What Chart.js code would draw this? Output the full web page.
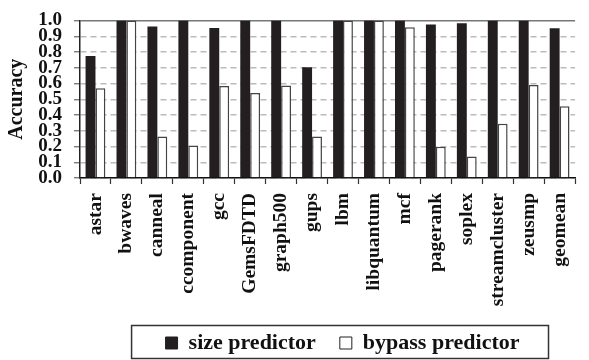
<!DOCTYPE html>
<html lang="en">
<head>
  <meta charset="UTF-8">
  <title>Accuracy: size vs bypass predictor</title>
  <script src="https://cdn.jsdelivr.net/npm/chart.js"></script>
  <style>
    html, body {
      margin: 0;
      padding: 0;
      background: #fff;
      overflow: hidden;
    }
    .chart-box {
      position: relative;
      width: 592px;
      height: 364px;
    }
  </style>
</head>
<body>

<div class="chart-box">
  <canvas id="accChart"></canvas>
</div>

<script>
const benchmarks = ["astar", "bwaves", "canneal", "ccomponent", "gcc", "GemsFDTD", "graph500", "gups",
  "lbm", "libquantum", "mcf", "pagerank", "soplex", "streamcluster", "zeusmp", "geomean"];
const sizePredictor   = [0.775, 1.0, 0.963, 1.0, 0.953, 1.0, 1.0, 0.703, 1.0, 1.0, 1.0, 0.975, 0.983, 1.0, 1.0, 0.951];
const bypassPredictor = [0.57, 1.0, 0.264, 0.207, 0.585, 0.54, 0.587, 0.264, 1.0, 1.0, 0.957, 0.198, 0.137, 0.345, 0.591, 0.456];
const yTicks = [0.0, 0.1, 0.2, 0.3, 0.4, 0.5, 0.6, 0.7, 0.8, 0.9, 1.0];

const serif = "'Liberation Serif', 'Times New Roman', serif";
const ink = "#231f20";

// nudge the legend a bit right, then frame it like the original figure
const legendFrame = {
  id: "legendFrame",
  afterLayout(chart) {
    if (!chart.legend) return;
    chart.legend.left += 15;
    chart.legend.right += 15;
  },
  afterDraw(chart) {
    const boxes = chart.legend && chart.legend.legendHitBoxes;
    if (!boxes || !boxes.length) return;
    const first = boxes[0], last = boxes[boxes.length - 1];
    const cy = first.top + first.height / 2;
    const x0 = first.left - 34;
    const x1 = last.left + last.width + 29;
    const ctx = chart.ctx;
    ctx.save();
    ctx.strokeStyle = "#333";
    ctx.lineWidth = 1.5;
    ctx.strokeRect(x0, cy - 17.5, x1 - x0, 33);
    ctx.restore();
  }
};

new Chart(document.getElementById("accChart"), {
  type: "bar",
  data: {
    labels: benchmarks,
    datasets: [
      {
        label: "size predictor",
        data: sizePredictor,
        backgroundColor: ink,
        borderColor: ink,
        borderWidth: 0,
        categoryPercentage: 0.64,
        barPercentage: 1.0
      },
      {
        label: "bypass predictor",
        data: bypassPredictor,
        backgroundColor: "#ffffff",
        borderColor: "#444",
        borderWidth: 1.5,
        categoryPercentage: 0.64,
        barPercentage: 1.0
      }
    ]
  },
  options: {
    responsive: true,
    maintainAspectRatio: false,
    animation: false,
    layout: { padding: { top: 15, right: 0, bottom: 0, left: 0 } },
    plugins: {
      tooltip: { enabled: false },
      legend: {
        position: "bottom",
        fullSize: false,
        labels: {
          font: { family: serif, size: 22, weight: "bold" },
          color: "#111",
          boxWidth: 12,
          boxHeight: 12,
          padding: 24,
          generateLabels(chart) {
            return chart.data.datasets.map((d, i) => ({
              text: d.label,
              fillStyle: d.backgroundColor,
              strokeStyle: ink,
              lineWidth: 1,
              fontColor: "#111",
              datasetIndex: i
            }));
          }
        }
      }
    },
    scales: {
      x: {
        offset: true,
        grid: {
          offset: true,
          drawOnChartArea: false,
          drawTicks: true,
          tickLength: 6,
          tickColor: "#333",
          tickWidth: 1.2
        },
        border: { color: "#111", width: 1.5 },
        ticks: {
          autoSkip: false,
          minRotation: 90,
          maxRotation: 90,
          padding: 9,
          color: "#111",
          font: { family: serif, size: 19.5, weight: "bold" }
        },
        afterFit(scale) { scale.height = 130; }
      },
      y: {
        min: 0,
        max: 1,
        afterBuildTicks(scale) { scale.ticks = yTicks.map(v => ({ value: v })); },
        afterFit(scale) { scale.width = 80; },
        grid: {
          color: ctx => ctx.tick && ctx.tick.value >= 1 ? "#777" : "#bbb",
          lineWidth: 1.5,
          tickLength: 6,
          tickColor: "#666",
          tickWidth: 1.2
        },
        border: {
          color: "#222",
          width: 1.5,
          dash: ctx => ctx.tick && ctx.tick.value >= 1 ? [] : [6, 4]
        },
        ticks: {
          autoSkip: false,
          padding: 12,
          color: "#111",
          font: { family: serif, size: 19, weight: "bold", lineHeight: 0.9 },
          callback: v => Number(v).toFixed(1)
        },
        title: {
          display: true,
          text: "Accuracy",
          color: "#111",
          padding: { top: 5, bottom: 0 },
          font: { family: serif, size: 20, weight: "bold" }
        }
      }
    }
  },
  plugins: [legendFrame]
});
</script>

</body>
</html>
